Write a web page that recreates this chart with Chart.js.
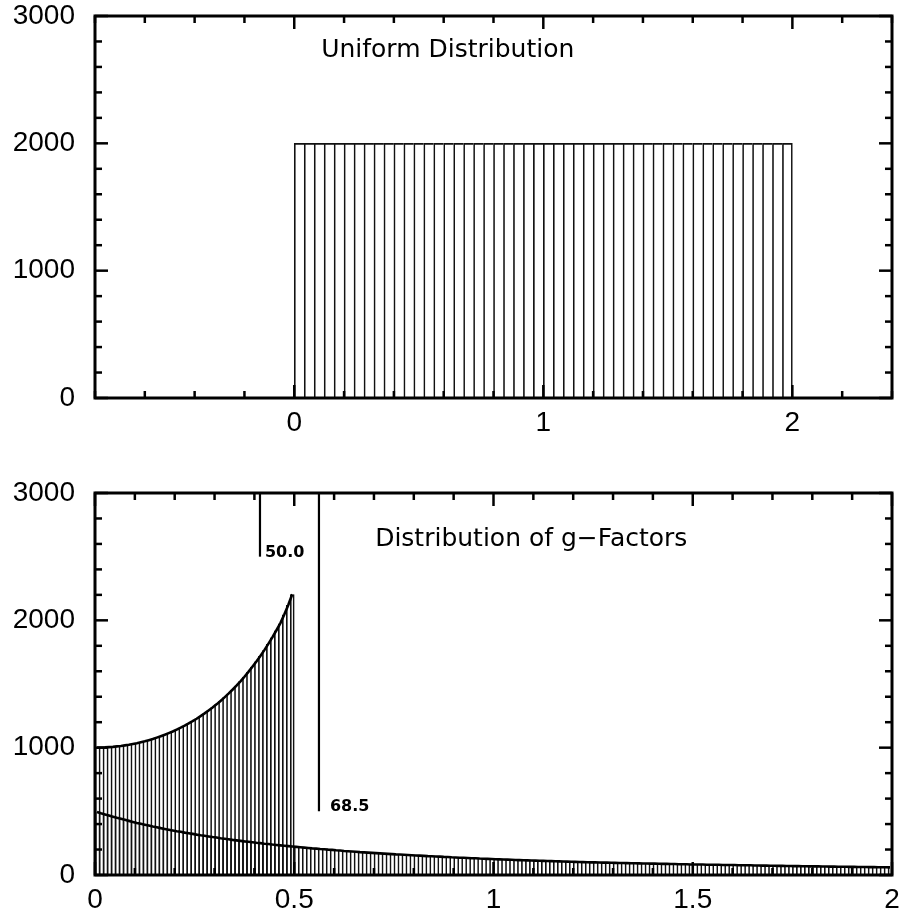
<!DOCTYPE html>
<html>
<head>
<meta charset="utf-8">
<script src="https://cdn.jsdelivr.net/npm/chart.js@4.4.0/dist/chart.umd.min.js"></script>
<style>
  html, body { margin: 0; padding: 0; background: #fff; overflow: hidden; }
  .panel { position: absolute; left: 0; width: 901px; }
  #top { top: 0; height: 460px; }
  #bottom { top: 460px; height: 459px; }
</style>
</head>
<body>
<div class="panel" id="top"><canvas id="uniformChart"></canvas></div>
<div class="panel" id="bottom"><canvas id="gChart"></canvas></div>
<script>
// top panel: uniform histogram, 50 bins of 0.04 from 0 to 2
var uniformStart = 0;
var uniformBin = 0.04;
var uniformCounts = [
    2000, 2000, 2000, 2000, 2000, 2000, 2000, 2000, 2000, 2000,
    2000, 2000, 2000, 2000, 2000, 2000, 2000, 2000, 2000, 2000,
    2000, 2000, 2000, 2000, 2000, 2000, 2000, 2000, 2000, 2000,
    2000, 2000, 2000, 2000, 2000, 2000, 2000, 2000, 2000, 2000,
    2000, 2000, 2000, 2000, 2000, 2000, 2000, 2000, 2000, 2000
];
var uniformXTicks = [0, 1, 2];
var uniformXLabels = ['0', '1', '2'];

// bottom panel: g-factor histograms, bins of 0.01
var gBin = 0.01;
var gHighCounts = [
    1000, 1001, 1002, 1004, 1006, 1010, 1013, 1018, 1023, 1029,
    1035, 1043, 1050, 1059, 1068, 1079, 1090, 1101, 1114, 1127,
    1142, 1157, 1173, 1190, 1208, 1227, 1248, 1269, 1292, 1315,
    1340, 1367, 1395, 1424, 1455, 1487, 1521, 1557, 1595, 1635,
    1676, 1720, 1766, 1815, 1866, 1920, 1976, 2045, 2120, 2205
];
var gLowCounts = [
    495, 485, 476, 467, 458, 449, 441, 433, 425, 417,
    409, 402, 395, 388, 381, 375, 368, 362, 356, 350,
    344, 339, 333, 328, 323, 317, 312, 308, 303, 298,
    294, 289, 285, 281, 276, 272, 268, 264, 261, 257,
    253, 250, 246, 243, 239, 236, 233, 230, 227, 224,
    221, 218, 215, 212, 209, 207, 204, 202, 199, 197,
    194, 192, 189, 187, 185, 183, 180, 178, 176, 174,
    172, 170, 168, 166, 164, 162, 161, 159, 157, 155,
    153, 152, 150, 148, 147, 145, 144, 142, 141, 139,
    138, 136, 135, 134, 132, 131, 129, 128, 127, 126,
    124, 123, 122, 121, 120, 118, 117, 116, 115, 114,
    113, 112, 111, 110, 109, 108, 107, 106, 105, 104,
    103, 102, 101, 100, 99, 99, 98, 97, 97, 96,
    95, 94, 94, 93, 92, 92, 91, 90, 90, 89,
    89, 88, 87, 87, 86, 86, 85, 84, 84, 83,
    83, 82, 82, 81, 81, 80, 80, 79, 79, 78,
    78, 77, 77, 76, 76, 75, 75, 74, 74, 73,
    73, 72, 72, 71, 71, 70, 70, 69, 69, 68,
    68, 68, 67, 67, 66, 66, 65, 65, 65, 64,
    64, 63, 63, 63, 62, 62, 61, 61, 61, 60
];
var gXTicks = [0, 0.5, 1, 1.5, 2];
var gXLabels = ['0', '0.5', '1', '1.5', '2'];

var markerX = [0.414, 0.562];
var markerEnd = [2500, 500];
var markerLabels = ['50.0', '68.5'];

var yTicks = [0, 1000, 2000, 3000];
var yLabels = ['0', '1000', '2000', '3000'];

Chart.defaults.font.family = "'DejaVu Sans', sans-serif";
Chart.defaults.color = '#000';

var tickFont = { family: "'Liberation Sans', Arial, sans-serif", size: 28 };

function toBins(counts, start, width) {
    return counts.map(function(c, i) {
        return { x: start + (i + 0.5) * width, y: c };
    });
}

// box round the plot with inward ticks on all four sides
var axisFrame = {
    id: 'axisFrame',
    afterDraw: function(chart, args, opts) {
        var ctx = chart.ctx, a = chart.chartArea;
        var xs = chart.scales.x, ys = chart.scales.y;
        ctx.save();
        ctx.strokeStyle = '#000';
        ctx.lineWidth = 2.5;
        function line(x1, y1, x2, y2) {
            ctx.beginPath(); ctx.moveTo(x1, y1); ctx.lineTo(x2, y2); ctx.stroke();
        }
        function isMajor(list, v) {
            return list.some(function(m) { return Math.abs(m - v) < 1e-6; });
        }
        var n = Math.round((xs.max - xs.min) / opts.xMinorStep), i, v, p, len;
        for (i = 0; i <= n; i++) {
            v = xs.min + i * opts.xMinorStep;
            p = xs.getPixelForValue(v);
            len = isMajor(opts.xMajor, v) ? 13 : 7;
            line(p, a.bottom, p, a.bottom - len);
            line(p, a.top, p, a.top + len);
        }
        n = Math.round((ys.max - ys.min) / opts.yMinorStep);
        for (i = 0; i <= n; i++) {
            v = ys.min + i * opts.yMinorStep;
            p = ys.getPixelForValue(v);
            len = isMajor(opts.yMajor, v) ? 13 : 7;
            line(a.left, p, a.left + len, p);
            line(a.right, p, a.right - len, p);
        }
        ctx.lineWidth = 3;
        ctx.strokeRect(a.left, a.top, a.right - a.left, a.bottom - a.top);
        ctx.restore();
    }
};

// in-plot titles and the marker lines
var notes = {
    id: 'notes',
    afterDraw: function(chart, args, opts) {
        var ctx = chart.ctx;
        var xs = chart.scales.x, ys = chart.scales.y;
        ctx.save();
        ctx.fillStyle = '#000';
        ctx.textBaseline = 'alphabetic';
        ctx.textAlign = 'left';
        ctx.font = "25px 'DejaVu Sans'";
        (opts.titles || []).forEach(function(t) {
            ctx.fillText(t.text, xs.getPixelForValue(t.x), ys.getPixelForValue(t.y));
        });
        if (opts.markers) {
            var m = opts.markers;
            ctx.strokeStyle = '#000';
            ctx.lineWidth = 2.2;
            ctx.font = "bold 16px 'DejaVu Sans'";
            m.x.forEach(function(xv, i) {
                var px = xs.getPixelForValue(xv);
                var yTop = ys.getPixelForValue(ys.max);
                var yEnd = ys.getPixelForValue(m.end[i]);
                ctx.beginPath(); ctx.moveTo(px, yTop); ctx.lineTo(px, yEnd); ctx.stroke();
                ctx.fillText(m.labels[i], px + m.dx[i], yEnd);
            });
        }
        ctx.restore();
    }
};

function yScale() {
    return {
        type: 'linear',
        min: 0,
        max: 3000,
        grid: { display: false, drawTicks: false },
        border: { display: false },
        afterBuildTicks: function(s) { s.ticks = yTicks.map(function(v) { return { value: v }; }); },
        afterFit: function(s) { s.width = 95; s.paddingTop = 0; s.paddingBottom = 0; },
        ticks: {
            padding: 20,
            font: tickFont,
            callback: function(v, i) { return yLabels[i]; }
        }
    };
}

function xScale(min, max, tickVals, tickLabels, height) {
    return {
        type: 'linear',
        min: min,
        max: max,
        offset: false,
        grid: { display: false, drawTicks: false },
        border: { display: false },
        afterBuildTicks: function(s) { s.ticks = tickVals.map(function(v) { return { value: v }; }); },
        afterFit: function(s) { s.height = height; s.paddingLeft = 0; s.paddingRight = 0; },
        ticks: {
            padding: 8,
            maxRotation: 0,
            autoSkip: false,
            font: tickFont,
            callback: function(v, i) { return tickLabels[i]; }
        }
    };
}

new Chart(document.getElementById('uniformChart'), {
    type: 'bar',
    data: {
        datasets: [{
            data: toBins(uniformCounts, uniformStart, uniformBin),
            backgroundColor: 'rgba(0,0,0,0)',
            borderColor: '#111',
            borderSkipped: false,
            borderWidth: function(c) {
                return { left: 1, top: 1, bottom: 0, right: c.dataIndex === uniformCounts.length - 1 ? 1 : 0 };
            },
            barPercentage: 1,
            categoryPercentage: 1
        }]
    },
    options: {
        animation: false,
        responsive: true,
        maintainAspectRatio: false,
        layout: { padding: { top: 16, right: 9, left: 0, bottom: 0 } },
        plugins: {
            legend: { display: false },
            tooltip: { enabled: false },
            axisFrame: { xMajor: uniformXTicks, xMinorStep: 0.2, yMajor: yTicks, yMinorStep: 200 },
            notes: { titles: [{ text: 'Uniform Distribution', x: 0.108, y: 2678 }] }
        },
        scales: {
            x: xScale(-0.8, 2.4, uniformXTicks, uniformXLabels, 62),
            y: yScale()
        }
    },
    plugins: [axisFrame, notes]
});

new Chart(document.getElementById('gChart'), {
    type: 'bar',
    data: {
        datasets: [
            {
                type: 'line',
                data: toBins(gHighCounts, 0, gBin),
                borderColor: '#000',
                borderWidth: 2.6,
                pointRadius: 0,
                tension: 0,
                fill: false,
                order: 0
            },
            {
                type: 'line',
                data: toBins(gLowCounts, 0, gBin),
                borderColor: '#000',
                borderWidth: 2.6,
                pointRadius: 0,
                tension: 0,
                fill: false,
                order: 0
            },
            {
                data: toBins(gHighCounts, 0, gBin),
                backgroundColor: 'rgba(0,0,0,0)',
                borderColor: '#111',
                borderSkipped: false,
                borderWidth: function(c) {
                    return { left: 1, top: 0, bottom: 0, right: c.dataIndex === gHighCounts.length - 1 ? 1 : 0 };
                },
                grouped: false,
                barPercentage: 1,
                categoryPercentage: 1,
                order: 1
            },
            {
                data: toBins(gLowCounts, 0, gBin),
                backgroundColor: 'rgba(0,0,0,0)',
                borderColor: '#111',
                borderSkipped: false,
                borderWidth: { left: 1, top: 0, bottom: 0, right: 0 },
                grouped: false,
                barPercentage: 1,
                categoryPercentage: 1,
                order: 1
            }
        ]
    },
    options: {
        animation: false,
        responsive: true,
        maintainAspectRatio: false,
        layout: { padding: { top: 33, right: 9, left: 0, bottom: 0 } },
        plugins: {
            legend: { display: false },
            tooltip: { enabled: false },
            axisFrame: { xMajor: gXTicks, xMinorStep: 0.1, yMajor: yTicks, yMinorStep: 200 },
            notes: {
                titles: [{ text: 'Distribution of g\u2212Factors', x: 0.703, y: 2584 }],
                markers: { x: markerX, end: markerEnd, labels: markerLabels, dx: [5, 11] }
            }
        },
        scales: {
            x: xScale(0, 2, gXTicks, gXLabels, 44),
            y: yScale()
        }
    },
    plugins: [axisFrame, notes]
});
</script>
</body>
</html>
